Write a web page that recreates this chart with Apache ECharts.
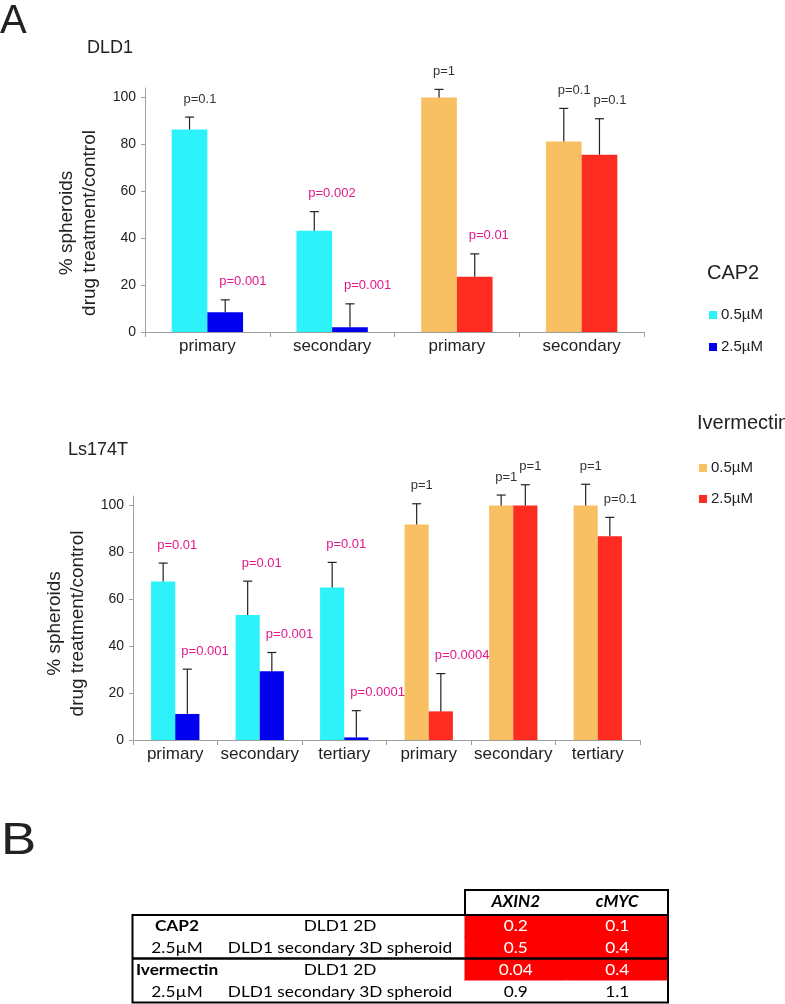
<!DOCTYPE html>
<html>
<head>
<meta charset="utf-8">
<script src="https://cdn.jsdelivr.net/npm/echarts@6/dist/echarts.min.js"></script>
<style>
html,body{margin:0;padding:0;background:#fff;}
#chart{width:785px;height:1004px;}
</style>
</head>
<body>
<div id="chart"></div>
<script>
// ---------------- DATA ----------------
// Panel A, DLD1
const dld1Categories = ['primary', 'secondary', 'primary', 'secondary'];
const dld1Drug = ['CAP2', 'CAP2', 'Ivermectin', 'Ivermectin'];
const dld1Low = [86.3, 43.2, 100, 81.2];          // 0.5 µM
const dld1LowErr = [5.3, 8.1, 3.4, 14.1];
const dld1High = [8.4, 2.0, 23.6, 75.6];          // 2.5 µM
const dld1HighErr = [5.3, 10.0, 9.7, 15.3];
const dld1LowP = ['p=0.1', 'p=0.002', 'p=1', 'p=0.1'];
const dld1HighP = ['p=0.001', 'p=0.001', 'p=0.01', 'p=0.1'];

// Panel A, Ls174T
const lsCategories = ['primary', 'secondary', 'tertiary', 'primary', 'secondary', 'tertiary'];
const lsDrug = ['CAP2', 'CAP2', 'CAP2', 'Ivermectin', 'Ivermectin', 'Ivermectin'];
const lsLow = [67.6, 53.3, 65.0, 91.8, 100, 100];
const lsLowErr = [7.8, 14.4, 10.7, 8.9, 4.4, 9.0];
const lsHigh = [11.1, 29.3, 1.1, 12.2, 100, 86.8];
const lsHighErr = [19.1, 8.0, 11.4, 16.1, 8.8, 8.1];
const lsLowP = ['p=0.01', 'p=0.01', 'p=0.01', 'p=1', 'p=1', 'p=1'];
const lsHighP = ['p=0.001', 'p=0.001', 'p=0.0001', 'p=0.0004', 'p=1', 'p=0.1'];

const yTicks = [0, 20, 40, 60, 80, 100];
const doses = ['0.5µM', '2.5µM'];
const drugs = ['CAP2', 'Ivermectin'];

// Panel B table
const tableRows = ['r1', 'r2', 'r3', 'r4'];
const tableDrugLabels = ['CAP2', '2.5µM', 'Ivermectin', '2.5µM'];
const tableSamples = ['DLD1 2D', 'DLD1 secondary 3D spheroid', 'DLD1 2D', 'DLD1 secondary 3D spheroid'];
const tableGenes = ['AXIN2', 'cMYC'];
const axin2Values = [0.2, 0.5, 0.04, 0.9];
const cmycValues = [0.1, 0.4, 0.4, 1.1];

// ---------------- STYLE ----------------
const FONT = "'Liberation Sans', Arial, Helvetica, sans-serif";
const TFONT = "Lato, 'Liberation Sans', sans-serif";
const TSCALE = 1.15;
const COLORS = { 'CAP2': ['#2df2fa', '#0000ee'], 'Ivermectin': ['#f9c063', '#fe2b20'] };
const MAGENTA = '#e3198c';
const DARK = '#333333';
const AXIS = '#a0a0a0';
const CELL_RED = '#ff0000';
const BAR_FRAC = 0.286;
const SIG = 0.05;
const LOW_EXPR = 0.6;

function pColor(p) { return parseFloat(p.split('=')[1]) < SIG ? MAGENTA : DARK; }

function errRender(side, pLabels) {
  return function (params, api) {
    const ci = api.value(0), v = api.value(1), e = api.value(2);
    const base = api.coord([ci, v]);
    const top = api.coord([ci, v + e]);
    const bw = api.size([1, 0])[0] * BAR_FRAC;
    const cx = base[0] + side * bw / 2;
    const p = pLabels[params.dataIndex];
    return {
      type: 'group',
      children: [
        { type: 'line', shape: { x1: cx, y1: base[1], x2: cx, y2: top[1] }, style: { stroke: '#222', lineWidth: 1.2 } },
        { type: 'line', shape: { x1: cx - 4.5, y1: top[1], x2: cx + 4.5, y2: top[1] }, style: { stroke: '#222', lineWidth: 1.2 } },
        { type: 'text', x: cx - 6, y: top[1] - 18, style: { text: p, fill: pColor(p), font: '13px ' + FONT, align: 'left', verticalAlign: 'middle' } }
      ]
    };
  };
}

function barSeries(gi, values, drugArr, doseIdx) {
  return {
    type: 'bar', xAxisIndex: gi, yAxisIndex: gi, barWidth: (BAR_FRAC * 100) + '%', barGap: '0%', silent: true,
    data: values.map((v, i) => ({ value: v, itemStyle: { color: COLORS[drugArr[i]][doseIdx] } }))
  };
}
function errSeries(gi, values, errs, pLabels, side) {
  return {
    type: 'custom', xAxisIndex: gi, yAxisIndex: gi, z: 10, silent: true, clip: false,
    renderItem: errRender(side, pLabels),
    encode: { x: 0, y: 1 },
    data: values.map((v, i) => [i, v, errs[i]])
  };
}

function valueAxis(gi, gap, padRight) {
  return {
    type: 'value', gridIndex: gi, min: 0, max: 104, interval: 20,
    name: '% spheroids\ndrug treatment/control', nameLocation: 'middle', nameGap: gap, nameRotate: 90,
    nameTextStyle: { fontFamily: FONT, fontSize: 19, lineHeight: 23, color: '#222', padding: [0, padRight, 0, 0] },
    axisLine: { show: true, lineStyle: { color: AXIS, width: 1 } },
    axisTick: { show: true, length: 4, lineStyle: { color: AXIS }, customValues: yTicks },
    axisLabel: { fontFamily: FONT, fontSize: 14, color: '#222', margin: 9, customValues: yTicks },
    splitLine: { show: false }
  };
}
function catAxis(gi, cats) {
  return {
    type: 'category', gridIndex: gi, data: cats, boundaryGap: true,
    axisLine: { show: true, lineStyle: { color: AXIS, width: 1 } },
    axisTick: { show: true, length: 5, alignWithLabel: false, lineStyle: { color: AXIS } },
    axisLabel: { fontFamily: FONT, fontSize: 17, color: '#222', margin: 6, interval: 0 }
  };
}

// table: one custom item per row, cells placed through the grid's category axes
function tableRow(params, api) {
  const i = params.dataIndex;
  const cs = params.coordSys;
  const rowY = api.coord([0, i])[1];
  const x0 = api.coord([0, i])[0];
  const x1 = api.coord([1, i])[0];
  const cw = api.size([1, 1]);
  function t(x, text, opts) {
    return {
      type: 'text', x: x, y: rowY, scaleX: TSCALE, z2: 10,
      style: Object.assign({ text: text, font: '15px ' + TFONT, fill: '#000', align: 'center', verticalAlign: 'middle' }, opts || {})
    };
  }
  function cell(x, v) {
    return {
      type: 'rect', z2: 1,
      shape: { x: x - cw[0] / 2 - 0.5, y: rowY - cw[1] / 2 - 0.5, width: cw[0] + 1, height: cw[1] + 1 },
      style: { fill: v < LOW_EXPR ? CELL_RED : '#ffffff' }
    };
  }
  const a = axin2Values[i], c = cmycValues[i];
  return {
    type: 'group',
    children: [
      cell(x0, a), cell(x1, c),
      t(cs.x - 288, tableDrugLabels[i], { font: (i % 2 === 0 ? 'bold ' : '') + '15px ' + TFONT }),
      t(cs.x - 125, tableSamples[i]),
      t(x0, String(a), { fill: a < LOW_EXPR ? '#fff' : '#000' }),
      t(x1, String(c), { fill: c < LOW_EXPR ? '#fff' : '#000' })
    ]
  };
}

function legendGroup(title, drug, x, titleY, itemYs) {
  const children = [
    { type: 'text', x: x, y: titleY, style: { text: title, font: '20px ' + FONT, fill: '#222', verticalAlign: 'middle' } }
  ];
  doses.forEach((d, i) => {
    children.push({ type: 'rect', shape: { x: x + 2, y: itemYs[i] - 4, width: 8, height: 8 }, style: { fill: COLORS[drug][i] } });
    children.push({ type: 'text', x: x + 14, y: itemYs[i], style: { text: d, font: '15px ' + FONT, fill: '#222', verticalAlign: 'middle' } });
  });
  return { type: 'group', children: children };
}

const chart = echarts.init(document.getElementById('chart'), null, { renderer: 'canvas' });
chart.setOption({
  animation: false,
  backgroundColor: '#fff',
  grid: [
    { left: 145, top: 88, width: 499, height: 244 },
    { left: 133, top: 496, width: 507, height: 244 },
    { left: 465, top: 915, width: 203, height: 88 }
  ],
  xAxis: [
    catAxis(0, dld1Categories),
    catAxis(1, lsCategories),
    {
      type: 'category', gridIndex: 2, data: tableGenes, position: 'top',
      axisLine: { show: false }, axisTick: { show: false }, splitLine: { show: false },
      axisLabel: { fontFamily: TFONT, fontSize: 17, fontWeight: 'bold', fontStyle: 'italic', color: '#000', margin: 5 }
    }
  ],
  yAxis: [
    valueAxis(0, 43, 26),
    valueAxis(1, 42, 11),
    {
      type: 'category', gridIndex: 2, data: tableRows, inverse: true,
      axisLine: { show: false }, axisTick: { show: false }, axisLabel: { show: false }, splitLine: { show: false }
    }
  ],
  series: [
    barSeries(0, dld1Low, dld1Drug, 0),
    barSeries(0, dld1High, dld1Drug, 1),
    barSeries(1, lsLow, lsDrug, 0),
    barSeries(1, lsHigh, lsDrug, 1),
    errSeries(0, dld1Low, dld1LowErr, dld1LowP, -1),
    errSeries(0, dld1High, dld1HighErr, dld1HighP, 1),
    errSeries(1, lsLow, lsLowErr, lsLowP, -1),
    errSeries(1, lsHigh, lsHighErr, lsHighP, 1),
    {
      type: 'custom', xAxisIndex: 2, yAxisIndex: 2, silent: true, clip: false, z: 20,
      renderItem: tableRow,
      encode: { x: 0, y: 1 },
      data: tableRows.map((r, i) => [0, i])
    }
  ],
  graphic: [
    { type: 'text', x: 0, y: 2, style: { text: 'A', font: '40px ' + FONT, fill: '#222' } },
    { type: 'text', x: 87, y: 48, style: { text: 'DLD1', font: '18px ' + FONT, fill: '#222', verticalAlign: 'middle' } },
    { type: 'text', x: 68, y: 450, style: { text: 'Ls174T', font: '18px ' + FONT, fill: '#222', verticalAlign: 'middle' } },
    legendGroup('CAP2', 'CAP2', 707, 273, [315, 347]),
    legendGroup('Ivermectin', 'Ivermectin', 697, 423, [468, 499]),
    { type: 'text', x: 1, y: 820, scaleX: 1.2, style: { text: 'B', font: '44px ' + FONT, fill: '#222' } },
    { type: 'rect', z: 100, shape: { x: 465, y: 890, width: 203, height: 25 }, style: { fill: 'none', stroke: '#000', lineWidth: 2 } },
    { type: 'rect', z: 100, shape: { x: 132.5, y: 915, width: 535.5, height: 87.5 }, style: { fill: 'none', stroke: '#000', lineWidth: 2 } },
    { type: 'line', z: 100, shape: { x1: 132.5, y1: 958.5, x2: 668, y2: 958.5 }, style: { stroke: '#000', lineWidth: 2.5 } }
  ]
});
</script>
</body>
</html>
